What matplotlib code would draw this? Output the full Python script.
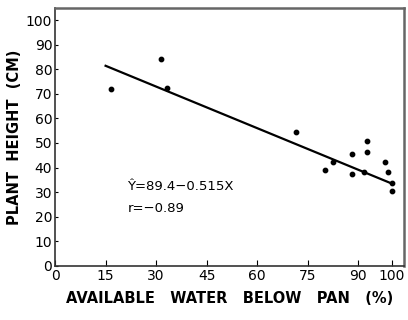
import matplotlib
matplotlib.use("Agg")
import matplotlib.pyplot as plt

# scatter points
water = [16.6, 31.4, 33.2, 71.6, 80.1, 82.5, 88.3, 88.3, 92.5, 92.5, 91.8, 98.1, 98.8, 100.1, 100.1]
height = [72.0, 84.3, 72.5, 54.6, 39.2, 42.3, 45.7, 37.4, 50.8, 46.2, 38.2, 42.3, 38.3, 33.6, 30.6]

# regression line as drawn
line_x = [15, 100]
line_y = [81.4, 33.5]

xticks = [0, 15, 30, 45, 60, 75, 90, 100]
yticks = [0, 10, 20, 30, 40, 50, 60, 70, 80, 90, 100]

fig = plt.figure(figsize=(4.08, 3.2), dpi=100)
ax = fig.add_axes([0.135, 0.169, 0.855, 0.806])

ax.plot(line_x, line_y, color="black", lw=1.6)
ax.scatter(water, height, s=10, color="black", zorder=3)

ax.text(21.5, 31, "Ŷ=89.4−0.515X", fontsize=9.5)
ax.text(21.5, 22, "r=−0.89", fontsize=9.5)

ax.set_xlim(0, 103.6)
ax.set_ylim(0, 104.9)
ax.set_xticks(xticks)
ax.set_yticks(yticks)
ax.tick_params(direction="in", length=4, width=0.8, labelsize=10, pad=2)
ax.tick_params(axis="y", length=2)

for s in ax.spines.values():
    s.set_linewidth(1.2)
    s.set_color("#333333")
ax.spines["top"].set_color("#666666")
ax.spines["right"].set_color("#666666")
ax.spines["top"].set_linewidth(1.8)
ax.spines["right"].set_linewidth(1.8)

ax.set_xlabel("AVAILABLE   WATER   BELOW   PAN   (%)", fontsize=10.5, fontweight="bold", labelpad=6)
ax.set_ylabel("PLANT  HEIGHT  (CM)", fontsize=10.5, fontweight="bold", labelpad=3)

fig.savefig("out.png", dpi=100)
